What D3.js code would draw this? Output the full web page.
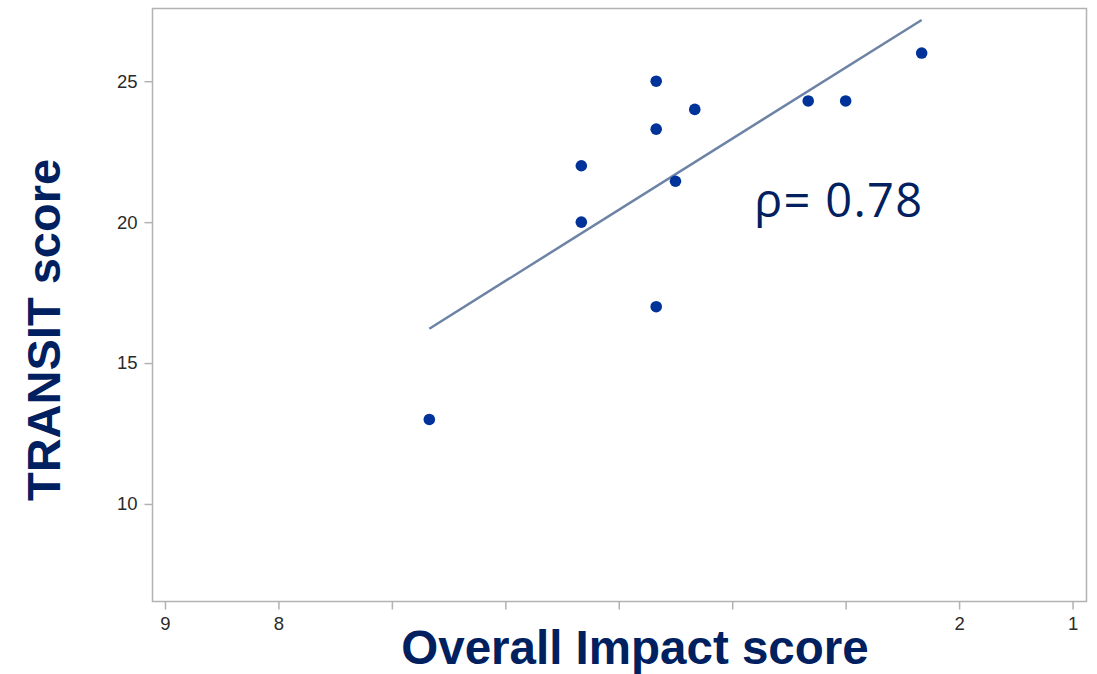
<!DOCTYPE html>
<html>
<head>
<meta charset="utf-8">
<script src="https://cdn.jsdelivr.net/npm/d3@7"></script>
<style>
  html, body { margin: 0; padding: 0; background: #ffffff; }
  svg { display: block; }
</style>
</head>
<body>
<svg id="chart" width="1097" height="674"></svg>
<script>
// ---- data ----
const impactScores  = [6.67, 5.33, 5.33, 4.67, 4.67, 4.67, 4.5, 4.33, 3.33, 3.0, 2.33];
const transitScores = [13, 22, 20, 25, 23.3, 17, 21.45, 24, 24.3, 24.3, 26];
const xTickValues = [9, 8, 7, 6, 5, 4, 3, 2, 1];
const xTickLabels = ["9", "8", "", "", "", "", "", "2", "1"];
const yTickValues = [10, 15, 20, 25];
const yTickLabels = ["10", "15", "20", "25"];
const xTitle = "Overall Impact score";
const yTitle = "TRANSIT score";
const annotation = "ρ= 0.78";

// ---- layout ----
const svg = d3.select("#chart");
const plotLeft = 152.5, plotRight = 1086.5, plotTop = 8.5, plotBottom = 601.5;
const navy = "#002060";

const x = d3.scaleLinear().domain([9.11, 0.877]).range([plotLeft, plotRight]);
const y = d3.scaleLinear().domain([6.54, 27.58]).range([plotBottom, plotTop]);

const points = impactScores.map((v, i) => ({ x: v, y: transitScores[i] }));

// frame
svg.append("rect")
  .attr("x", plotLeft).attr("y", plotTop)
  .attr("width", plotRight - plotLeft).attr("height", plotBottom - plotTop)
  .attr("fill", "none").attr("stroke", "#b2b2b2").attr("stroke-width", 1.5);

// axes
const xAxis = d3.axisBottom(x)
  .tickValues(xTickValues)
  .tickSize(8).tickPadding(7)
  .tickFormat((d, i) => xTickLabels[i]);
const gx = svg.append("g").attr("transform", `translate(0,${plotBottom})`).call(xAxis);

const yAxis = d3.axisLeft(y)
  .tickValues(yTickValues)
  .tickSize(8).tickPadding(7)
  .tickFormat((d, i) => yTickLabels[i]);
const gy = svg.append("g").attr("transform", `translate(${plotLeft},0)`).call(yAxis);

[gx, gy].forEach(g => {
  g.select(".domain").remove();
  g.selectAll(".tick line").attr("stroke", "#b2b2b2").attr("stroke-width", 1.5);
  g.selectAll(".tick text")
    .attr("fill", "#2a2a2a")
    .style("font-family", "'Liberation Sans', Arial, sans-serif")
    .style("font-size", "18.5px");
});

// regression line (least squares fit of the data)
const mx = d3.mean(impactScores), my = d3.mean(transitScores);
const sxy = d3.sum(points, p => (p.x - mx) * (p.y - my));
const sxx = d3.sum(points, p => (p.x - mx) * (p.x - mx));
const slope = sxy / sxx, intercept = my - slope * mx;
const [xmin, xmax] = d3.extent(impactScores);
svg.append("line")
  .attr("x1", x(xmax)).attr("y1", y(intercept + slope * xmax))
  .attr("x2", x(xmin)).attr("y2", y(intercept + slope * xmin))
  .attr("stroke", "#6d83a5").attr("stroke-width", 2.5);

// points
svg.append("g").selectAll("circle")
  .data(points).join("circle")
  .attr("cx", d => x(d.x)).attr("cy", d => y(d.y))
  .attr("r", 5.8)
  .attr("fill", "#003399");

// annotation
svg.append("text")
  .attr("x", 754).attr("y", 217)
  .attr("fill", navy)
  .style("font-family", "'Open Sans', 'Noto Sans', sans-serif")
  .style("font-size", "47px")
  .style("letter-spacing", "1.3px")
  .text(annotation);

// axis titles
svg.append("text")
  .attr("x", 635).attr("y", 664)
  .attr("text-anchor", "middle")
  .attr("fill", navy)
  .style("font-family", "'Liberation Sans', Arial, sans-serif")
  .style("font-weight", "bold")
  .style("font-size", "47.5px")
  .text(xTitle);

svg.append("text")
  .attr("transform", "translate(60,330) rotate(-90)")
  .attr("text-anchor", "middle")
  .attr("fill", navy)
  .style("font-family", "'Liberation Sans', Arial, sans-serif")
  .style("font-weight", "bold")
  .style("font-size", "47px")
  .text(yTitle);
</script>
</body>
</html>
